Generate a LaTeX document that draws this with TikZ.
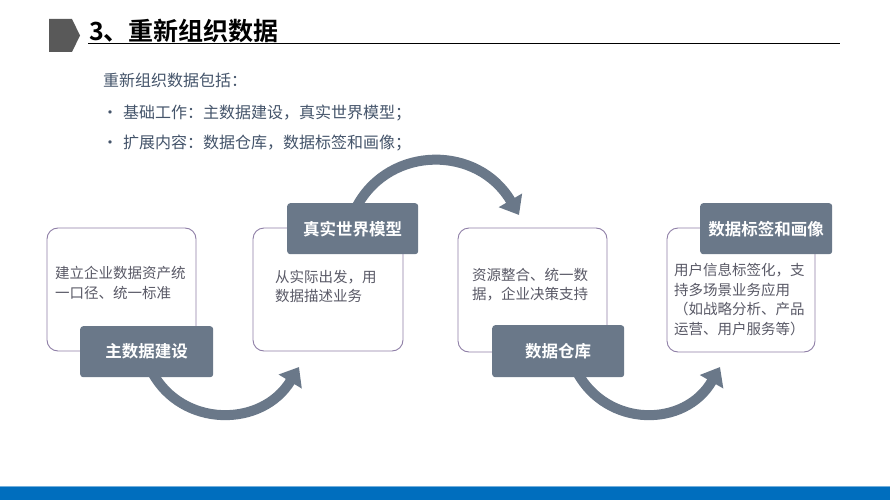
\documentclass[tikz,border=0pt]{standalone}
\usepackage{fontspec}
\setmainfont{Noto Sans CJK SC}
\newfontfamily\cjkb{Noto Sans CJK SC Bold}
\usetikzlibrary{arrows.meta}
\definecolor{lab}{HTML}{6A7889}
\definecolor{bord}{HTML}{8E7EA6}
\definecolor{bodyc}{HTML}{44546A}
\definecolor{boxt}{HTML}{595966}
\definecolor{barc}{HTML}{006EBE}
\definecolor{titc}{HTML}{595959}
\tikzset{
  card/.style={draw=bord, line width=0.9pt, fill=white, rounded corners=11pt},
  tag/.style={fill=lab, rounded corners=3pt, text=white, font=\cjkb\fontsize{16.5}{20}\selectfont, inner sep=0pt, anchor=north west},
  cardtext/.style={anchor=north west, inner sep=0pt, align=left, text=boxt, font=\fontsize{14.5}{19.5}\selectfont},
  bodytext/.style={anchor=base west, inner sep=0pt, text=bodyc, font=\fontsize{16}{20}\selectfont},
  flow/.style={draw=lab, line width=10pt, -{Triangle[width=26pt,length=17pt]}}
}
\begin{document}
\begin{tikzpicture}[x=1pt,y=-1pt]
\useasboundingbox (0,0) rectangle (890,500);
% title
\fill[titc] (49,19) -- (72,19) -- (80,35.5) -- (72,52) -- (49,52) -- cycle;
\node[anchor=base west, inner sep=0pt, font=\cjkb\fontsize{25}{30}\selectfont, text=black] (title) at (89,41) {3、重新组织数据};
\draw[line width=1.3pt] (88,43.5) -- (840,43.5);
% intro
\node[bodytext] (intro) at (103,87) {重新组织数据包括：};
\node[bodytext] (b1) at (102,118) {•};
\node[bodytext] (t1) at (123,118) {基础工作：主数据建设，真实世界模型；};
\node[bodytext] (b2) at (102,148.5) {•};
\node[bodytext] (t2) at (123,148.5) {扩展内容：数据仓库，数据标签和画像；};
% cards
\path[card] (47,228) rectangle (196,351);
\path[card] (253,228) rectangle (403,351);
\path[card] (458,228) rectangle (607,352);
\path[card] (667,228) rectangle (815,352);
% curved arrows
\coordinate (a1s) at (152,372);
\coordinate (a1e) at (299,367);
\coordinate (a2s) at (357,206);
\coordinate (a2e) at (519,215);
\coordinate (a3s) at (577,372);
\coordinate (a3e) at (720,367);
\draw[flow] (a1s) .. controls (182,428) and (262,428) .. (a1e);
\draw[flow] (a2s) .. controls (390,145) and (478,145) .. (a2e);
\draw[flow] (a3s) .. controls (607,428) and (685,428) .. (a3e);
% card texts
\node[cardtext] (c1) at (55,266) {建立企业数据资产统\\一口径、统一标准};
\node[cardtext] (c2) at (275,270) {从实际出发，用\\数据描述业务};
\node[cardtext] (c3) at (472,268) {资源整合、统一数\\据，企业决策支持};
\node[cardtext] (c4) at (674,263) {用户信息标签化，支\\持多场景业务应用\\（如战略分析、产品\\运营、用户服务等）};
% tags
\node[tag, minimum width=133pt, minimum height=51pt] (l1) at (80,326) {主数据建设};
\node[tag, minimum width=131pt, minimum height=51pt] (l2) at (287,203) {真实世界模型};
\node[tag, minimum width=132pt, minimum height=52pt] (l3) at (492,325) {数据仓库};
\node[tag, minimum width=132pt, minimum height=51pt] (l4) at (700,203) {数据标签和画像};
% bottom bar
\fill[barc] (0,486) rectangle (890,500);
\draw[color=barc!55!white, line width=0.8pt] (0,486) -- (890,486);
\end{tikzpicture}
\end{document}
